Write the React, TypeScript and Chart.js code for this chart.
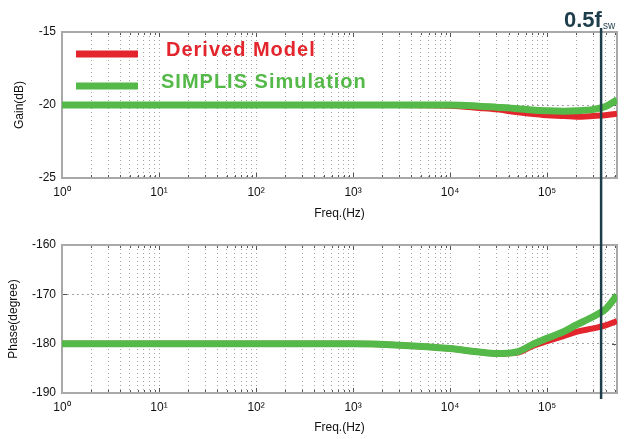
import { useEffect, useRef } from 'react';
import { Chart, registerables } from 'chart.js';

Chart.register(...registerables);

// ---- data ----
const freqHz = [1, 10, 100, 1000, 3000, 10000, 20000, 30000, 50000, 70000, 100000, 150000, 200000, 300000, 400000, 525000];
const gainDerived = [-20, -20, -20, -20, -20, -20.05, -20.2, -20.3, -20.5, -20.6, -20.7, -20.75, -20.8, -20.75, -20.7, -20.6];
const gainSimplis = [-20, -20, -20, -20, -20, -20.0, -20.08, -20.15, -20.25, -20.35, -20.4, -20.42, -20.4, -20.3, -20.1, -19.65];
const phaseDerived = [-180, -180, -180, -180, -180.3, -181, -181.7, -182, -181.8, -180.5, -179.5, -178.4, -177.6, -176.9, -176.3, -175.4];
const phaseSimplis = [-180, -180, -180, -180, -180.3, -181, -181.7, -182, -181.6, -180.2, -178.9, -177.5, -176.2, -174.5, -173, -170.2];
const decadeLabels = ['10\u2070', '10\u00b9', '10\u00b2', '10\u00b3', '10\u2074', '10\u2075'];
const seriesNames = ['Derived Model', 'SIMPLIS Simulation'];
const gainRange = [-25, -15];
const phaseRange = [-190, -160];
const freqRange = [1, 525000];
const halfFswHz = 360000;
const axisTitles = ['Gain(dB)', 'Phase(degree)', 'Freq.(Hz)'];
const markerText = ['0.5f', 'sw'];

const FONT = "'Liberation Sans', Arial, Helvetica, sans-serif";
const RED = '#e3262d';
const GREEN = '#54b948';
const MARK = '#1e3d4b';

function buildLogTicks(): { value: number }[] {
  const t: { value: number }[] = [];
  for (let k = 0; k < 6; k++) {
    for (let m = 1; m < 10; m++) {
      const v = m * Math.pow(10, k);
      if (v <= freqRange[1]) t.push({ value: v });
    }
  }
  return t;
}

function isDecade(v: number) {
  const k = Math.log10(v);
  return Math.abs(k - Math.round(k)) < 1e-9;
}

type Cfg = {
  canvas: HTMLCanvasElement;
  red: number[];
  green: number[];
  yRange: number[];
  yStep: number;
  yTitle: string;
  yTitlePad: number;
  padTop: number;
  xHeight: number;
  xTickPad: number;
  xTitlePadBottom: number;
  markerTop: number;
  markerBottom: number;
  top: boolean;
};

function makeChart(cfg: Cfg) {
  const framePlugin = {
    id: 'frame',
    beforeDatasetsDraw(chart: any) {
      const { ctx, chartArea: a } = chart;
      const xs = chart.scales.x;
      const ys = chart.scales.y;
      ctx.save();
      ctx.strokeStyle = '#555';
      ctx.lineWidth = 1;
      ctx.beginPath();
      for (const t of xs.ticks) {
        const px = Math.round(xs.getPixelForValue(t.value)) + 0.5;
        const len = isDecade(t.value) ? 5 : 3;
        ctx.moveTo(px, a.bottom);
        ctx.lineTo(px, a.bottom - len);
        ctx.moveTo(px, a.top);
        ctx.lineTo(px, a.top + len);
      }
      for (const t of ys.ticks) {
        const py = Math.round(ys.getPixelForValue(t.value)) + 0.5;
        ctx.moveTo(a.left, py);
        ctx.lineTo(a.left + 5, py);
        ctx.moveTo(a.right, py);
        ctx.lineTo(a.right - 5, py);
      }
      ctx.stroke();
      ctx.strokeStyle = '#a9a9a9';
      ctx.lineWidth = 2;
      ctx.strokeRect(a.left, a.top, a.right - a.left, a.bottom - a.top);
      ctx.restore();
    },
    afterDraw(chart: any) {
      const { ctx } = chart;
      const xs = chart.scales.x;
      const px = xs.getPixelForValue(halfFswHz);
      ctx.save();
      ctx.strokeStyle = MARK;
      ctx.lineWidth = 2.5;
      ctx.beginPath();
      ctx.moveTo(px, cfg.markerTop);
      ctx.lineTo(px, cfg.markerBottom);
      ctx.stroke();
      if (cfg.top) {
        // marker label
        ctx.fillStyle = MARK;
        ctx.textBaseline = 'alphabetic';
        ctx.textAlign = 'left';
        ctx.font = `bold 22px ${FONT}`;
        ctx.fillText(markerText[0], 564, 27);
        const w = ctx.measureText(markerText[0]).width;
        ctx.font = `10px ${FONT}`;
        ctx.fillText(markerText[1], 564 + w + 1, 29);
        // legend
        const a = chart.chartArea;
        const items = [
          { name: seriesNames[0], color: RED, y: 54, ty: 50 },
          { name: seriesNames[1], color: GREEN, y: 86, ty: 82 },
        ];
        for (const it of items) {
          ctx.strokeStyle = it.color;
          ctx.lineWidth = 7;
          ctx.lineCap = 'butt';
          ctx.beginPath();
          ctx.moveTo(a.left + 14, it.y);
          ctx.lineTo(a.left + 76, it.y);
          ctx.stroke();
          ctx.fillStyle = it.color;
          ctx.font = `bold 20px ${FONT}`;
          (ctx as any).letterSpacing = '1px';
          ctx.textBaseline = 'middle';
          ctx.fillText(it.name, it === items[0] ? 166 : 161, it.ty);
          (ctx as any).letterSpacing = '0px';
        }
      }
      ctx.restore();
    },
  };

  const mk = (arr: number[]) => freqHz.map((f, i) => ({ x: f, y: arr[i] }));

  return new Chart(cfg.canvas, {
    type: 'line',
    data: {
      datasets: [
        {
          label: seriesNames[0],
          data: mk(cfg.red),
          borderColor: RED,
          borderWidth: 6,
          pointRadius: 0,
          cubicInterpolationMode: 'monotone',
          order: 2,
        },
        {
          label: seriesNames[1],
          data: mk(cfg.green),
          borderColor: GREEN,
          borderWidth: 7,
          pointRadius: 0,
          cubicInterpolationMode: 'monotone',
          order: 1,
        },
      ],
    },
    options: {
      animation: false,
      responsive: false,
      events: [],
      layout: { padding: { top: cfg.padTop, right: 12, left: 0, bottom: 0 } },
      plugins: { legend: { display: false }, tooltip: { enabled: false } },
      scales: {
        x: {
          type: 'logarithmic',
          min: freqRange[0],
          max: freqRange[1],
          afterBuildTicks: (axis: any) => {
            axis.ticks = buildLogTicks();
          },
          afterFit: (axis: any) => {
            axis.height = cfg.xHeight;
          },
          ticks: {
            autoSkip: false,
            maxRotation: 0,
            minRotation: 0,
            padding: cfg.xTickPad,
            color: '#111',
            font: { family: FONT, size: 12 },
            callback: (v: any) => (isDecade(Number(v)) ? decadeLabels[Math.round(Math.log10(Number(v)))] : ''),
          },
          grid: {
            color: 'rgba(90,90,90,0.55)',
            lineWidth: 1,
            drawTicks: false,
          },
          border: { display: false, dash: [1, 3] },
          title: {
            display: true,
            text: axisTitles[2],
            color: '#111',
            font: { family: FONT, size: 12, lineHeight: 1.2 },
            padding: { top: 0, bottom: cfg.xTitlePadBottom },
          },
        },
        y: {
          type: 'linear',
          min: cfg.yRange[0],
          max: cfg.yRange[1],
          afterFit: (axis: any) => {
            axis.width = 62;
          },
          ticks: {
            stepSize: cfg.yStep,
            padding: 6,
            color: '#111',
            font: { family: FONT, size: 12 },
          },
          grid: {
            color: 'rgba(90,90,90,0.55)',
            lineWidth: 1,
            drawTicks: false,
          },
          border: { display: false, dash: [2, 3] },
          title: {
            display: true,
            text: cfg.yTitle,
            color: '#111',
            font: { family: FONT, size: 12, lineHeight: 1.2 },
            padding: { top: cfg.yTitlePad, bottom: 0 },
          },
        },
      },
    },
    plugins: [framePlugin],
  } as any);
}

export default function App() {
  const topRef = useRef<HTMLCanvasElement>(null);
  const botRef = useRef<HTMLCanvasElement>(null);

  useEffect(() => {
    if (!topRef.current || !botRef.current) return;
    const c1 = makeChart({
      canvas: topRef.current,
      red: gainDerived,
      green: gainSimplis,
      yRange: gainRange,
      yStep: 5,
      yTitle: axisTitles[0],
      yTitlePad: 12,
      padTop: 32,
      xHeight: 44,
      xTickPad: 7,
      xTitlePadBottom: 1,
      markerTop: 28,
      markerBottom: 222,
      top: true,
    });
    const c2 = makeChart({
      canvas: botRef.current,
      red: phaseDerived,
      green: phaseSimplis,
      yRange: phaseRange,
      yStep: 10,
      yTitle: axisTitles[1],
      yTitlePad: 6,
      padTop: 23,
      xHeight: 46,
      xTickPad: 7,
      xTitlePadBottom: 4,
      markerTop: 0,
      markerBottom: 177,
      top: false,
    });
    return () => {
      c1.destroy();
      c2.destroy();
    };
  }, []);

  return (
    <div style={{ position: 'fixed', left: 0, top: 0, width: 629, height: 439, background: '#fff' }}>
      <canvas ref={topRef} width={629} height={222} style={{ position: 'absolute', left: 0, top: 0 }} />
      <canvas ref={botRef} width={629} height={217} style={{ position: 'absolute', left: 0, top: 222 }} />
    </div>
  );
}
